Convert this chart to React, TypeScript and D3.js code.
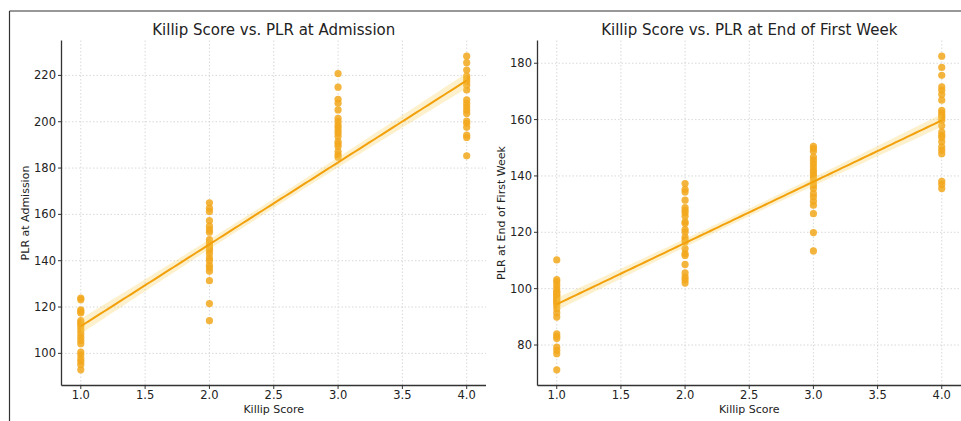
import React from "react";
import * as d3 from "d3";

const W = 961;
const H = 421;

// Left panel: PLR at admission, grouped by Killip score
const admK1 = [123.9, 123.2, 118.8, 118.1, 117.4, 114.2, 113.3, 112.5, 111.4, 110, 108.5, 107, 105.6, 104.2, 100.6, 99.4, 97.7, 96.5, 95.1, 92.9];
const admK2 = [165, 162.7, 161.3, 157.3, 154.9, 153.4, 152.3, 149.1, 147.7, 146.5, 145.5, 144.5, 143.1, 141.2, 140, 138, 136.9, 135.4, 131.4, 121.5, 114.1];
const admK3 = [220.8, 214.9, 209.7, 208, 205.1, 201.5, 200.1, 198.6, 197.5, 196.2, 195, 193.6, 191.4, 190.4, 189.3, 187.1, 185.7, 184.7];
const admK4 = [228.3, 225.5, 222.3, 219.7, 218.6, 217.3, 215.8, 213.7, 209.4, 207.9, 206.5, 205, 203.6, 200.3, 199.3, 197.6, 194.2, 193.2, 185.3];

// Right panel: PLR at end of first week
const wkK1 = [110.2, 103.2, 102.4, 101.2, 100, 98.8, 97.6, 96.4, 95.3, 94.1, 92.9, 91.4, 89.9, 84, 83.1, 82.3, 79.3, 78.1, 76.9, 71.2, 99, 97, 96, 98, 95];
const wkK2 = [137.3, 135.2, 134.3, 131.4, 128.8, 127.8, 126.9, 125.7, 123.7, 123.1, 121, 120.1, 118.3, 117.4, 116.6, 114.2, 112.4, 111.8, 108.6, 105.6, 104.1, 103.2, 102];
const wkK3 = [150.5, 149.7, 148.8, 146.7, 145.6, 144.4, 143.2, 142, 141.1, 140.2, 139.4, 137.9, 136.7, 135.5, 133.7, 132.5, 131, 129.6, 126.6, 119.9, 113.4];
const wkK4 = [182.5, 178.5, 175.7, 171.6, 170.4, 168.9, 166.9, 163.3, 162.4, 161.5, 160.7, 159.8, 157.8, 155.6, 154.4, 153.6, 152.1, 150.3, 149.1, 147.9, 138.1, 137, 135.5];

const killipScores = [1, 2, 3, 4];
const xTicks = [1.0, 1.5, 2.0, 2.5, 3.0, 3.5, 4.0];
const admYTicks = [100, 120, 140, 160, 180, 200, 220];
const wkYTicks = [80, 100, 120, 140, 160, 180];

const admTitle = "Killip Score vs. PLR at Admission";
const wkTitle = "Killip Score vs. PLR at End of First Week";
const xLabel = "Killip Score";
const admYLabel = "PLR at Admission";
const wkYLabel = "PLR at End of First Week";

const POINT = "#f2a81d";
const LINE = "#f2a10c";
const BAND = "#f7cf5a";
const FONT = "DejaVu Sans, sans-serif";
const TXT = "#222";
const CI_Z = 1.2;

type Pt = { x: number; y: number };

function buildPoints(groups: number[][]): Pt[] {
  const pts: Pt[] = [];
  groups.forEach((g, i) => g.forEach((v) => pts.push({ x: killipScores[i], y: v })));
  return pts;
}

function Panel(props: {
  left: number;
  right: number;
  groups: number[][];
  yTicks: number[];
  title: string;
  yLabel: string;
}) {
  const { left, right, groups, yTicks, title, yLabel } = props;
  const top = 40.5;
  const bottom = 385.5;
  const pts = buildPoints(groups);
  const xs = pts.map((p) => p.x);
  const ys = pts.map((p) => p.y);
  const xmin = d3.min(xs)!, xmax = d3.max(xs)!;
  const ymin = d3.min(ys)!, ymax = d3.max(ys)!;
  const xpad = (xmax - xmin) * 0.05;
  const ypad = (ymax - ymin) * 0.05;
  const x = d3.scaleLinear().domain([xmin - xpad, xmax + xpad]).range([left, right]);
  const y = d3.scaleLinear().domain([ymin - ypad, ymax + ypad]).range([bottom, top]);

  // linear regression with confidence band
  const n = pts.length;
  const mx = d3.mean(xs)!;
  const my = d3.mean(ys)!;
  const sxx = d3.sum(xs, (v) => (v - mx) ** 2);
  const sxy = d3.sum(pts, (p) => (p.x - mx) * (p.y - my));
  const b = sxy / sxx;
  const a = my - b * mx;
  const sse = d3.sum(pts, (p) => (p.y - (a + b * p.x)) ** 2);
  const s = Math.sqrt(sse / (n - 2));
  const grid = d3.range(0, 101).map((i) => xmin + ((xmax - xmin) * i) / 100);
  const band = grid.map((gx) => {
    const se = s * Math.sqrt(1 / n + (gx - mx) ** 2 / sxx);
    const f = a + b * gx;
    return { x: gx, lo: f - CI_Z * se, hi: f + CI_Z * se, f };
  });
  const area = d3
    .area<{ x: number; lo: number; hi: number }>()
    .x((d) => x(d.x))
    .y0((d) => y(d.lo))
    .y1((d) => y(d.hi));
  const line = d3
    .line<{ x: number; f: number }>()
    .x((d) => x(d.x))
    .y((d) => y(d.f));

  return (
    <g>
      {xTicks.map((t) => (
        <line key={"gx" + t} x1={x(t)} x2={x(t)} y1={top} y2={bottom} stroke="#cfcfcf" strokeWidth={0.8} strokeDasharray="1.5,2" />
      ))}
      {yTicks.map((t) => (
        <line key={"gy" + t} x1={left} x2={right} y1={y(t)} y2={y(t)} stroke="#cfcfcf" strokeWidth={0.8} strokeDasharray="1.5,2" />
      ))}
      {pts.map((p, i) => (
        <circle key={i} cx={x(p.x)} cy={y(p.y)} r={3.6} fill={POINT} fillOpacity={0.85} />
      ))}
      <path d={area(band)!} fill={BAND} fillOpacity={0.3} />
      <path d={line(band)!} fill="none" stroke={LINE} strokeWidth={2} />
      <line x1={left} x2={left} y1={top} y2={bottom} stroke="#333" strokeWidth={1.3} />
      <line x1={left} x2={right} y1={bottom} y2={bottom} stroke="#333" strokeWidth={1.3} />
      {xTicks.map((t) => (
        <g key={"tx" + t}>
          <line x1={x(t)} x2={x(t)} y1={bottom} y2={bottom + 3.5} stroke="#333" strokeWidth={1} />
          <text x={x(t)} y={bottom + 9} textAnchor="middle" dominantBaseline="central" fontSize={11.5} fontFamily={FONT} fill={TXT}>
            {t.toFixed(1)}
          </text>
        </g>
      ))}
      {yTicks.map((t) => (
        <g key={"ty" + t}>
          <line x1={left - 3.5} x2={left} y1={y(t)} y2={y(t)} stroke="#333" strokeWidth={1} />
          <text x={left - 5.5} y={y(t)} textAnchor="end" dominantBaseline="central" fontSize={11.5} fontFamily={FONT} fill={TXT}>
            {t}
          </text>
        </g>
      ))}
      <text x={(left + right) / 2} y={bottom + 23.5} textAnchor="middle" dominantBaseline="central" fontSize={11} fontFamily={FONT} fill={TXT}>
        {xLabel}
      </text>
      <text
        transform={`translate(${left - 36},${(top + bottom) / 2}) rotate(-90)`}
        textAnchor="middle"
        dominantBaseline="central"
        fontSize={11}
        fontFamily={FONT}
        fill={TXT}
      >
        {yLabel}
      </text>
      <text x={(left + right) / 2} y={29.5} textAnchor="middle" dominantBaseline="central" fontSize={15} fontFamily={FONT} fill={TXT}>
        {title}
      </text>
    </g>
  );
}

export default function App() {
  return (
    <svg width={W} height={H} style={{ position: "absolute", left: 0, top: 0, background: "#fff" }}>
      <rect x={0} y={0} width={W} height={H} fill="#fff" />
      <line x1={9.5} x2={W} y1={11} y2={11} stroke="#333" strokeWidth={1.2} />
      <line x1={9.5} x2={9.5} y1={11} y2={H} stroke="#333" strokeWidth={1.2} />
      <Panel left={61.5} right={486} groups={[admK1, admK2, admK3, admK4]} yTicks={admYTicks} title={admTitle} yLabel={admYLabel} />
      <Panel left={537.5} right={961} groups={[wkK1, wkK2, wkK3, wkK4]} yTicks={wkYTicks} title={wkTitle} yLabel={wkYLabel} />
    </svg>
  );
}
